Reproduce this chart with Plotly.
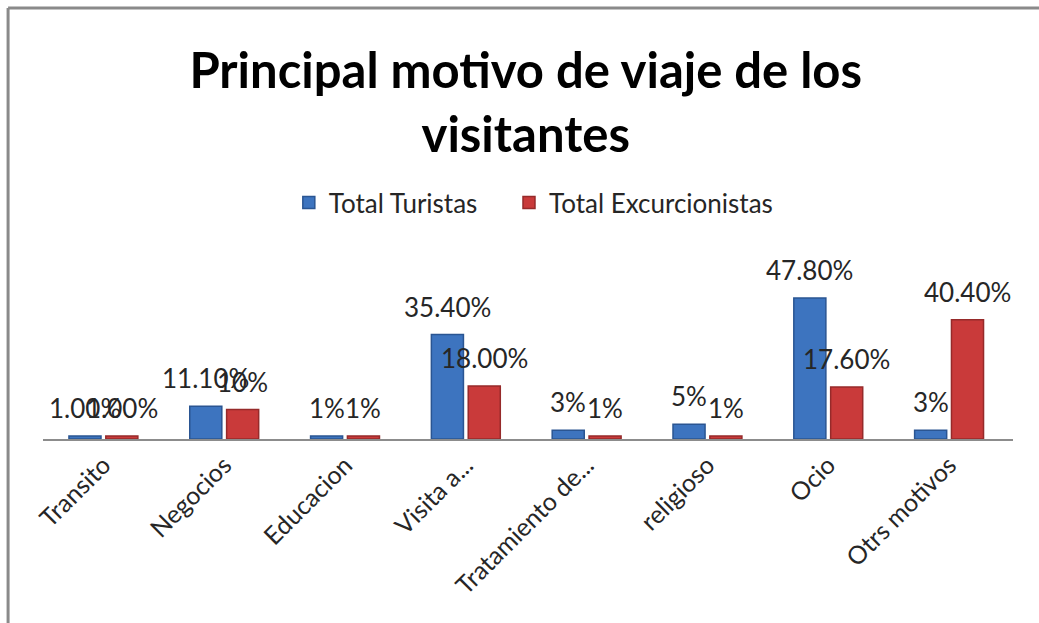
import plotly.graph_objects as go

# categories and values
motivos = ["Transito", "Negocios", "Educacion", "Visita a...", "Tratamiento de...",
           "religioso", "Ocio", "Otrs motivos"]
turistas = [1.0, 11.1, 1.0, 35.4, 3.0, 5.0, 47.8, 3.0]
excursionistas = [1.0, 10.0, 1.0, 18.0, 1.0, 1.0, 17.6, 40.4]
labels_turistas = ["1.00%", "11.10%", "1%", "35.40%", "3%", "5%", "47.80%", "3%"]
labels_excursionistas = ["1.00%", "10%", "1%", "18.00%", "1%", "1%", "17.60%", "40.40%"]

FONT = "Lato"
BLUE, BLUE_EDGE = "#3d74bf", "#2a5592"
RED, RED_EDGE = "#c93a3a", "#962a2a"
BARGAP = 0.39

fig = go.Figure()
fig.add_trace(go.Bar(
    x=motivos, y=turistas, name="Total Turistas&nbsp;&nbsp;&nbsp;&nbsp;",
    marker=dict(color=BLUE, line=dict(color=BLUE_EDGE, width=1.5)),
))
fig.add_trace(go.Bar(
    x=motivos, y=excursionistas, name="Total Excurcionistas",
    marker=dict(color=RED, line=dict(color=RED_EDGE, width=1.5)),
))

# data labels, sitting a little above each bar like the Excel original
slot = (1 - BARGAP) / 2
for i, (v, t) in enumerate(zip(turistas, labels_turistas)):
    fig.add_annotation(x=i - slot / 2, y=v, text=t, showarrow=False,
                       yanchor="bottom", yshift=10,
                       font=dict(family=FONT, size=26, color="#262626"))
for i, (v, t) in enumerate(zip(excursionistas, labels_excursionistas)):
    fig.add_annotation(x=i + slot / 2, y=v, text=t, showarrow=False,
                       yanchor="bottom", yshift=10,
                       font=dict(family=FONT, size=26, color="#262626"))

# grey chart frame (only top and left edges are visible in the crop)
fig.add_shape(type="line", xref="paper", yref="paper", x0=-0.036, x1=1.2,
              y0=2.435, y1=2.435, line=dict(color="#8a8a8a", width=3))
fig.add_shape(type="line", xref="paper", yref="paper", x0=-0.036, x1=-0.036,
              y0=2.435, y1=-2, line=dict(color="#8a8a8a", width=3))

fig.update_layout(
    width=1039, height=623,
    margin=dict(l=43, r=26, t=262, b=184),
    paper_bgcolor="white", plot_bgcolor="white",
    barmode="group", bargap=BARGAP, bargroupgap=0.13,
    title=dict(text="Principal motivo de viaje de los<br>visitantes",
               x=0.506, xanchor="center", y=0.859, yanchor="top",
               font=dict(family=FONT, size=49, color="black", weight="bold")),
    legend=dict(orientation="h", x=0.506, xanchor="center", y=1.335, yanchor="middle",
                font=dict(family=FONT, size=26, color="#262626"),
                itemwidth=30, traceorder="normal"),
    showlegend=True,
    xaxis=dict(showline=True, linecolor="#8c8c8c", linewidth=1.5, ticks="",
               tickangle=-45, automargin=False,
               tickfont=dict(family=FONT, size=25, color="#262626"),
               showgrid=False),
    yaxis=dict(range=[0, 60], visible=False, showgrid=False, automargin=False),
)

fig.write_html("out.html", config={"displayModeBar": False},
               post_script="document.body.style.margin='0';")
